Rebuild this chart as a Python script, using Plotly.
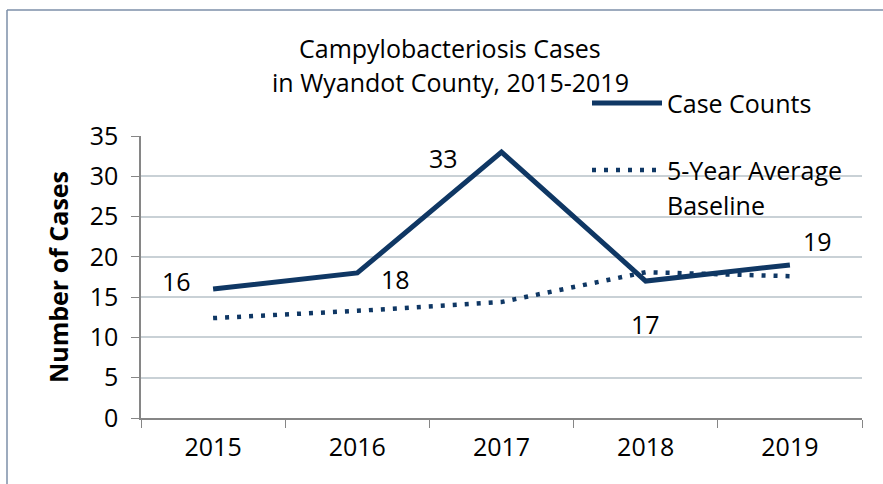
import plotly.graph_objects as go

years = ["2015", "2016", "2017", "2018", "2019"]
case_counts = [16, 18, 33, 17, 19]
baseline = [12.4, 13.3, 14.4, 18.1, 17.6]
y_ticks = [0, 5, 10, 15, 20, 25, 30, 35]

NAVY = "#0F3764"
FONT = "Open Sans"
FS = 25

# plot area in pixels
W, H = 883, 484
L, R, T, B = 141, 21, 136, 66
pw, ph = W - L - R, H - T - B

def px(x):
    return (x - L) / pw

def py(y):
    return (H - B - y) / ph

fig = go.Figure()
fig.add_trace(go.Scatter(x=years, y=baseline, mode="lines", name="5-Year Average Baseline",
                         line=dict(color=NAVY, width=4.5, dash="4px,8px"), showlegend=False,
                         hoverinfo="skip"))
fig.add_trace(go.Scatter(x=years, y=case_counts, mode="lines", name="Case Counts",
                         line=dict(color=NAVY, width=5), showlegend=False))

# data labels (category index on the categorical x axis)
offsets = [(-37, 8), (38, -6), (-58, -6), (0, -43), (28, 24)]
for i, (v, (dx, dy)) in enumerate(zip(case_counts, offsets)):
    fig.add_annotation(xref="x", yref="y", x=i, y=v, text=str(v), showarrow=False,
                       xshift=dx, yshift=dy, xanchor="center", yanchor="middle",
                       font=dict(family=FONT, size=FS, color="black"))

# legend (manual)
shapes = []
shapes.append(dict(type="line", xref="paper", yref="paper", x0=px(592), x1=px(662), y0=py(103), y1=py(103),
                   line=dict(color=NAVY, width=5)))
shapes.append(dict(type="line", xref="paper", yref="paper", x0=px(592), x1=px(660), y0=py(170), y1=py(170),
                   line=dict(color=NAVY, width=4.5, dash="4px,8px")))
fig.add_annotation(xref="paper", yref="paper", x=px(665), y=py(103), text="Case Counts", showarrow=False,
                   xanchor="left", yanchor="middle", font=dict(family=FONT, size=FS, color="black"))
fig.add_annotation(xref="paper", yref="paper", x=px(665), y=py(170), text="5-Year Average", showarrow=False,
                   xanchor="left", yanchor="middle", font=dict(family=FONT, size=FS, color="black"))
fig.add_annotation(xref="paper", yref="paper", x=px(665), y=py(205), text="Baseline", showarrow=False,
                   xanchor="left", yanchor="middle", font=dict(family=FONT, size=FS, color="black"))

# outer border (left and top visible)
border = "#7C8FA8"
shapes.append(dict(type="line", xref="paper", yref="paper", x0=px(7), x1=px(7), y0=py(10), y1=py(500),
                   line=dict(color=border, width=1.5)))
shapes.append(dict(type="line", xref="paper", yref="paper", x0=px(7), x1=px(900), y0=py(10), y1=py(10),
                   line=dict(color=border, width=1.5)))

# title (two lines)
fig.add_annotation(xref="paper", yref="paper", x=px(450), y=py(48), text="Campylobacteriosis Cases",
                   showarrow=False, xanchor="center", yanchor="middle",
                   font=dict(family=FONT, size=FS, color="black"))
fig.add_annotation(xref="paper", yref="paper", x=px(450), y=py(82), text="in Wyandot County, 2015-2019",
                   showarrow=False, xanchor="center", yanchor="middle",
                   font=dict(family=FONT, size=FS, color="black"))

fig.update_layout(
    width=W, height=H,
    margin=dict(l=L, r=R, t=T, b=B, autoexpand=False),
    paper_bgcolor="white", plot_bgcolor="white",
    font=dict(family=FONT, size=FS, color="black"),
    shapes=shapes,
    showlegend=False,
)
fig.update_xaxes(type="category", categoryorder="array", categoryarray=years, range=[-0.5, 4.5],
                 tickson="boundaries", ticks="outside", ticklen=8, tickcolor="#868686",
                 showline=True, linecolor="#868686", linewidth=1.5, showgrid=False, tickangle=0,
                 automargin=False,
                 ticklabelstandoff=6, tickfont=dict(family=FONT, size=FS, color="black"))
fig.update_yaxes(range=[0, 35], tickvals=y_ticks, ticks="outside", ticklen=8, tickcolor="#868686",
                 showline=True, linecolor="#868686", linewidth=1.5, automargin=False,
                 showgrid=True, gridcolor="#C9D1D6", gridwidth=1.5, zeroline=False,
                 ticklabelstandoff=8, tickfont=dict(family=FONT, size=FS, color="black"),
                 title=dict(text="<b>Number of Cases</b>", standoff=14,
                            font=dict(family=FONT, size=FS, color="black")))

fig.write_html("out.html", config={"displayModeBar": False},
               post_script="document.body.style.margin='0';")
